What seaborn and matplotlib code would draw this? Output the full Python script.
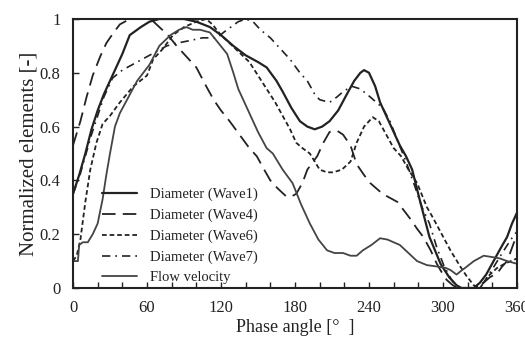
import numpy as np
import pandas as pd
import matplotlib
matplotlib.use("Agg")
import matplotlib.pyplot as plt
import seaborn as sns

# ---- data ----
d1_x = [0, 5, 10, 15, 20, 25, 30, 40, 46, 55, 62, 70, 80, 90, 100, 111, 120, 130, 140, 150, 157, 165, 170, 177, 184,
        190, 196, 202, 208, 215, 222, 228, 233, 236, 240, 245, 249, 254, 258, 265, 270, 275, 281, 289, 298, 305, 311,
        315, 325, 330, 335, 341, 347, 352, 356, 360]
d1_y = [0.35, 0.42, 0.50, 0.59, 0.66, 0.72, 0.77, 0.87, 0.94, 0.97, 0.99, 1.0, 1.0, 1.0, 0.99, 0.97, 0.94, 0.90, 0.865,
        0.84, 0.82, 0.77, 0.73, 0.67, 0.62, 0.60, 0.59, 0.60, 0.62, 0.66, 0.72, 0.77, 0.80, 0.81, 0.80, 0.75, 0.69,
        0.64, 0.60, 0.53, 0.49, 0.44, 0.33, 0.19, 0.09, 0.04, 0.01, 0.0, 0.0, 0.02, 0.05, 0.10, 0.15, 0.19, 0.24, 0.28]

d4_x = [0, 6, 11, 16, 22, 27, 33, 38, 46, 55, 63, 70, 77, 84, 92, 100, 108, 114, 120, 127, 135, 143, 149, 155, 160,
        166, 173, 177, 181, 186, 190, 198, 203, 208, 214, 219, 225, 230, 236, 241, 251, 263, 268, 273, 279, 284, 290,
        295, 300, 303, 308, 312, 328, 333, 338, 344, 348, 352, 356, 360]
d4_y = [0.53, 0.62, 0.71, 0.79, 0.86, 0.91, 0.95, 0.98, 1.0, 1.0, 1.0, 0.97, 0.94, 0.90, 0.86, 0.82, 0.75, 0.70, 0.66,
        0.62, 0.57, 0.52, 0.49, 0.44, 0.40, 0.37, 0.34, 0.34, 0.35, 0.39, 0.44, 0.49, 0.54, 0.58, 0.585, 0.57, 0.53,
        0.46, 0.42, 0.39, 0.35, 0.32, 0.29, 0.26, 0.22, 0.19, 0.14, 0.09, 0.05, 0.03, 0.01, 0.0, 0.0, 0.02, 0.04, 0.055,
        0.08, 0.10, 0.15, 0.20]

d6_x = [0, 3, 6, 10, 14, 19, 24, 30, 38, 49, 60, 65, 73, 81, 90, 100, 108, 113, 120, 127, 135, 143, 150, 157, 164, 170,
        176, 181, 186, 192, 200, 206, 211, 218, 225, 230, 236, 243, 248, 254, 260, 266, 272, 279, 287, 292, 299, 306,
        314, 319, 325, 330, 333, 338, 344, 350, 355, 360]
d6_y = [0.10, 0.12, 0.18, 0.32, 0.44, 0.54, 0.61, 0.64, 0.69, 0.75, 0.79, 0.85, 0.89, 0.94, 0.97, 0.99, 1.0, 0.98, 0.94,
        0.91, 0.875, 0.84, 0.79, 0.74, 0.69, 0.64, 0.59, 0.54, 0.52, 0.50, 0.44, 0.43, 0.43, 0.44, 0.47, 0.54, 0.60,
        0.635, 0.62, 0.57, 0.52, 0.49, 0.44, 0.39, 0.30, 0.26, 0.20, 0.14, 0.08, 0.045, 0.01, 0.0, 0.02, 0.05, 0.075,
        0.09, 0.10, 0.11]

d7_x = [0, 5, 10, 15, 20, 25, 32, 40, 52, 60, 68, 76, 84, 95, 105, 117, 122, 128, 134, 140, 146, 152, 160, 168, 176,
        184, 190, 196, 200, 208, 214, 219, 226, 233, 241, 251, 257, 263, 270, 277, 283, 289, 295, 301, 307, 312, 325,
        333, 340, 348, 355, 360]
d7_y = [0.35, 0.41, 0.49, 0.57, 0.64, 0.71, 0.78, 0.81, 0.84, 0.86, 0.88, 0.90, 0.91, 0.92, 0.93, 0.93, 0.95, 0.97, 0.99,
        1.0, 0.99, 0.96, 0.93, 0.89, 0.85, 0.80, 0.77, 0.72, 0.70, 0.69, 0.71, 0.73, 0.75, 0.74, 0.71, 0.67, 0.62, 0.55,
        0.47, 0.38, 0.30, 0.24, 0.15, 0.08, 0.03, 0.0, 0.0, 0.02, 0.07, 0.13, 0.18, 0.21]

fv_x = [0, 4, 5, 8, 12, 16, 20, 24, 27, 30, 34, 38, 45, 52, 62, 70, 79, 86, 92, 97, 103, 111, 118, 125, 130, 134, 139,
        144, 150, 157, 162, 170, 178, 185, 192, 199, 206, 212, 219, 225, 230, 235, 242, 249, 255, 265, 272, 279, 287,
        295, 302, 306, 311, 315, 318, 325, 333, 340, 346, 352, 360]
fv_y = [0.10, 0.10, 0.16, 0.17, 0.17, 0.20, 0.24, 0.33, 0.42, 0.50, 0.60, 0.65, 0.71, 0.77, 0.83, 0.90, 0.94, 0.96, 0.97,
        0.96, 0.96, 0.95, 0.91, 0.87, 0.80, 0.74, 0.69, 0.64, 0.58, 0.52, 0.50, 0.44, 0.39, 0.31, 0.24, 0.18, 0.14,
        0.13, 0.13, 0.12, 0.12, 0.14, 0.16, 0.185, 0.18, 0.16, 0.13, 0.10, 0.085, 0.08, 0.075, 0.067, 0.05, 0.065,
        0.075, 0.10, 0.12, 0.115, 0.11, 0.10, 0.09]

labels = ["Diameter (Wave1)", "Diameter (Wave4)", "Diameter (Wave6)", "Diameter (Wave7)", "Flow velocity"]
x_ticks = [0, 60, 120, 180, 240, 300, 360]
y_ticks = [0, 0.2, 0.4, 0.6, 0.8, 1.0]
y_tick_labels = ["0", "0.2", "0.4", "0.6", "0.8", "1"]

# ---- plot ----
sns.set_theme(style="white")
plt.rcParams["font.family"] = ["Liberation Serif", "DejaVu Serif"]

fig = plt.figure(figsize=(5.25, 3.38), dpi=100)
ax = fig.add_axes([73 / 525, 50 / 338, 444 / 525, 269 / 338])

series = [
    (d1_x, d1_y, dict(color="#222222", lw=1.6, linestyle="-")),
    (d4_x, d4_y, dict(color="#222222", lw=1.3, linestyle=(0, (7.5, 4)))),
    (d6_x, d6_y, dict(color="#222222", lw=1.3, linestyle=(0, (2.6, 1.6)))),
    (d7_x, d7_y, dict(color="#222222", lw=1.2, linestyle=(0, (5, 3, 1, 3)))),
    (fv_x, fv_y, dict(color="#444444", lw=1.3, linestyle="-")),
]
for (xs, ys, st), lab in zip(series, labels):
    sns.lineplot(x=xs, y=ys, ax=ax, label=lab, estimator=None, sort=False, **st)

ax.set_xlim(0, 360)
ax.set_ylim(0, 1)
ax.set_xticks(np.arange(0, 361, 20))
ax.set_xticklabels([str(v) if v in x_ticks else "" for v in range(0, 361, 20)])
ax.set_yticks(y_ticks)
ax.set_yticklabels(y_tick_labels)
ax.tick_params(axis="both", direction="in", length=4, width=1, colors="#222222",
               labelsize=12, bottom=True, left=True)
ax.tick_params(axis="x", pad=9)
ax.tick_params(axis="y", pad=9)
for s in ax.spines.values():
    s.set_color("#222222")
    s.set_linewidth(1.5)
    s.set_visible(True)

ax.set_xlabel("Phase angle [°  ]", fontsize=13, color="#222222", labelpad=2)
ax.set_ylabel("Normalized elements [-]", fontsize=15, color="#222222", labelpad=1)

leg = ax.legend(loc="lower left", bbox_to_anchor=(0.035, -0.035), frameon=False, fontsize=10.5,
                handlelength=2.4, handletextpad=0.9, labelspacing=0.5)
for t in leg.get_texts():
    t.set_color("#222222")

fig.savefig("out.png", dpi=100)
